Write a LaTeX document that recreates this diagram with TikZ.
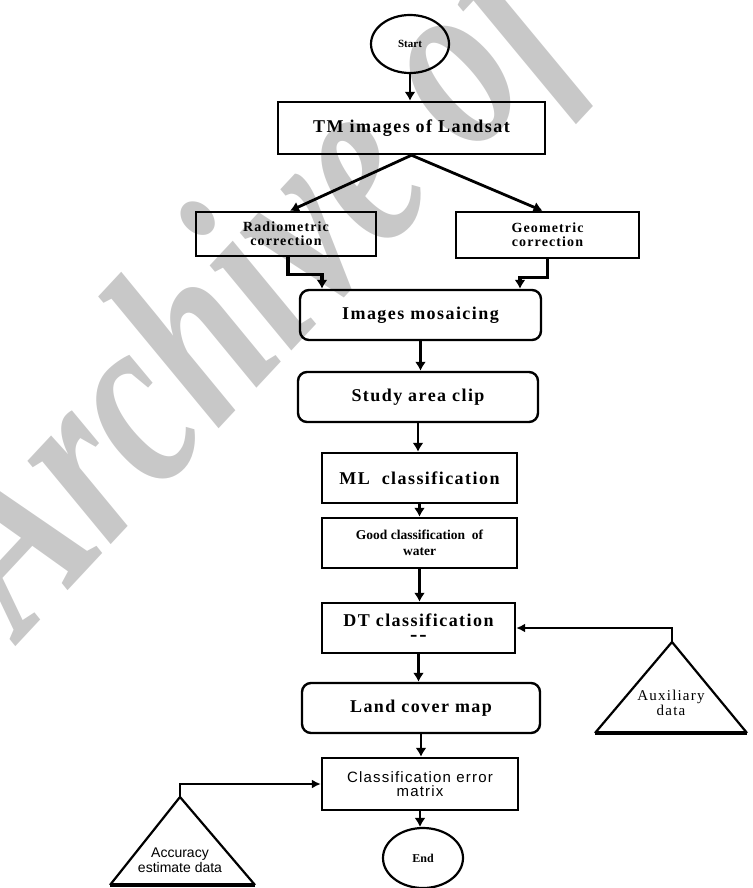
\documentclass[tikz,border=0pt]{standalone}
\usepackage{fontspec}
\setmainfont{Liberation Serif}
\setsansfont{Liberation Sans}
\newfontfamily\spfont{Liberation Serif}[LetterSpace=8]
\newfontfamily\spsans{Liberation Sans}[LetterSpace=8]
\usetikzlibrary{arrows.meta,shapes.geometric}
\definecolor{wmgray}{RGB}{200,200,200}
\begin{document}
\begin{tikzpicture}[x=1pt,y=-1pt,
  box/.style={draw, line width=2.4pt, inner sep=0pt, align=center},
  rbox/.style={box, rounded corners=9pt},
  oval/.style={draw, ellipse, line width=2.2pt, inner sep=0pt, align=center},
  arr/.style={line width=2.8pt, -{Latex[length=9pt,width=11pt]}},
  sidearr/.style={line width=2pt, -{Latex[length=9pt,width=9pt]}},
  triside/.style={line width=2.2pt},
  tribase/.style={line width=4pt},
  bigbold/.style={font=\fontsize{18}{22}\selectfont\spfont\bfseries},
]
\useasboundingbox (0,0) rectangle (752,888);
\begin{scope}
\clip (0,0) rectangle (752,888);
\node[font=\fontsize{190}{190}\selectfont\bfseries\itshape, text=wmgray, rotate=47,
  anchor=base west, inner sep=0pt] (wm) at (22,640) {\scalebox{1}[1.35]{Archive of SID}};
\end{scope}

% nodes
\node[oval, minimum width=78pt, minimum height=58pt, font=\fontsize{11}{12}\selectfont\bfseries] (start) at (410,44) {Start};
\node[box, minimum width=267pt, minimum height=52pt, bigbold] (tm) at (411.5,128) {TM images of Landsat};
\node[box, minimum width=180pt, minimum height=44pt, font=\fontsize{14}{14}\selectfont\spfont\bfseries] (rad) at (286,234) {Radiometric\\correction};
\node[box, minimum width=183pt, minimum height=46pt, font=\fontsize{14}{14}\selectfont\spfont\bfseries] (geo) at (547.5,235) {Geometric\\correction};
\node[rbox, minimum width=241pt, minimum height=50pt, bigbold] (mos) at (420.5,315) {Images mosaicing};
\node[rbox, minimum width=240pt, minimum height=50pt, bigbold] (study) at (418,397) {Study area clip};
\node[box, minimum width=195pt, minimum height=50pt, bigbold] (ml) at (419.5,478) {ML\ \ classification};
\node[box, minimum width=195pt, minimum height=50pt, font=\fontsize{13.5}{16}\selectfont\bfseries] (good) at (419.5,543) {Good classification\ \ of\\water};
\node[box, minimum width=193pt, minimum height=50pt, bigbold] (dt) at (418.5,628) {DT classification\\[-7pt]{\fontsize{22}{14}\selectfont\bfseries -\hspace{2pt}-}};
\node[rbox, minimum width=238pt, minimum height=50pt, bigbold] (land) at (421,708) {Land cover map};
\node[box, minimum width=196pt, minimum height=52pt, font=\fontsize{15}{14}\selectfont\spsans] (cem) at (420,784) {Classification error\\matrix};
\node[oval, minimum width=80pt, minimum height=60pt, font=\fontsize{12}{12}\selectfont\bfseries] (endn) at (423,858) {End};

% triangles
\coordinate (auxtop) at (672,642);
\coordinate (auxl) at (595,733);
\coordinate (auxr) at (747,733);
\draw[triside] (auxl) -- (auxtop) -- (auxr);
\draw[tribase] (auxl) -- (auxr);
\node[font=\fontsize{15}{13}\selectfont\spfont, align=center, inner sep=0pt] (auxtxt) at (671,703) {Auxiliary\\data};

\coordinate (acctop) at (180,797);
\coordinate (accl) at (110,885);
\coordinate (accr) at (255,885);
\draw[triside] (accl) -- (acctop) -- (accr);
\draw[tribase] (accl) -- (accr);
\node[font=\fontsize{14}{15}\selectfont\sffamily, align=center, inner sep=0pt] (acctxt) at (180,860) {Accuracy\\estimate data};

% connectors
\draw[arr] (start.south) -- (start.south |- tm.north);
\draw[arr] (tm.south) -- ([xshift=4pt]rad.north);
\draw[arr] (tm.south) -- ([xshift=-5pt]geo.north);
\draw[arr, line width=3.4pt] ([xshift=2pt]rad.south) -- ++(0,17) -| ([xshift=-98.5pt]mos.north);
\draw[arr, line width=3.4pt] (geo.south) -- ++(0,18) -| ([xshift=99.5pt]mos.north);
\draw[arr] (mos.south) -- (mos.south |- study.north);
\draw[arr] (study.south) -- (study.south |- ml.north);
\draw[arr] (ml.south) -- (ml.south |- good.north);
\draw[arr] (good.south) -- (good.south |- dt.north);
\draw[arr] (dt.south) -- (dt.south |- land.north);
\draw[arr] (land.south) -- (land.south |- cem.north);
\draw[arr] (cem.south) -- (cem.south |- endn.north);
\draw[sidearr] (auxtop) |- (dt.east);
\draw[sidearr] (acctop) |- (cem.west);
\end{tikzpicture}
\end{document}
